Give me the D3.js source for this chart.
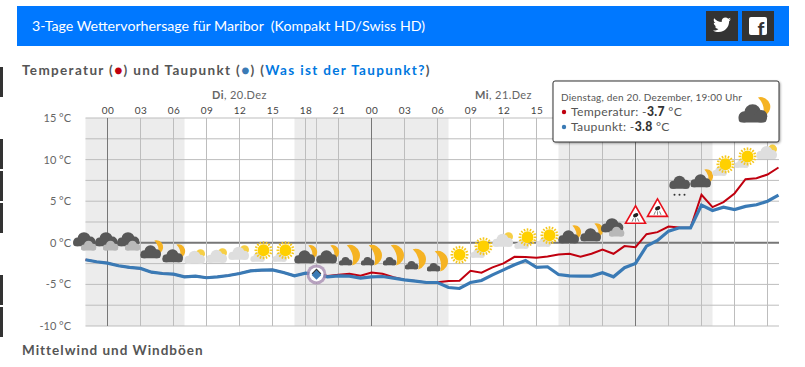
<!DOCTYPE html>
<html>
<head>
<meta charset="utf-8">
<script src="https://cdn.jsdelivr.net/npm/d3@7"></script>
<style>
  html, body { margin: 0; padding: 0; background: #fff; overflow: hidden; }
  text { font-family: Lato, "Open Sans", sans-serif; }
</style>
</head>
<body>
<svg id="chart" width="805" height="367"></svg>
<script>
// hours counted from Tue 00:00, one value per hour
const hours = d3.range(-2, 62);
const temperature = [
  -2.04, -2.28, -2.44, -2.76, -2.96, -3.08, -3.53, -3.69, -3.77, -4.09, -4.0, -4.2, -4.09, -3.93, -3.69, -3.37,
  -3.29, -3.25, -3.57, -3.97, -3.65, -3.7, -4.0, -3.85, -3.73, -3.97, -3.57, -3.73, -4.13, -4.45, -4.6, -4.77,
  -4.73, -4.6, -4.57, -3.37, -3.6, -2.96, -2.48, -1.68, -1.72, -1.8, -1.64, -1.4, -1.32, -1.68, -1.32,
  -0.8, -1.32, -0.4, -0.52, 1.04, 1.28, 1.96, 1.84, 1.8, 5.77, 4.29, 4.89, 5.93, 7.65, 7.77, 8.21, 9.05
];
const dewPoint = [
  -2.04, -2.28, -2.44, -2.76, -2.96, -3.08, -3.53, -3.69, -3.77, -4.09, -4.0, -4.2, -4.09, -3.93, -3.69, -3.37,
  -3.29, -3.25, -3.57, -3.97, -3.65, -3.8, -4.09, -3.97, -4.0, -4.25, -4.09, -4.05, -4.25, -4.45, -4.6, -4.77,
  -4.77, -5.37, -5.49, -4.77, -4.53, -3.85, -3.25, -2.64, -2.12, -2.96, -2.88, -3.81, -3.97, -4.0, -4.0,
  -3.6, -4.09, -3.0, -2.48, -0.4, 0.28, 1.4, 1.8, 1.8, 4.53, 3.89, 4.29, 4.0, 4.37, 4.57, 5.0, 5.73
];

const nightBands = [[-2, 7], [17, 31], [41, 55]];
const gridHours = d3.range(0, 61, 3);
const hourTicks = d3.range(0, 40, 3);
const midnights = [0, 24, 48];
const dayLabels = [{ hour: 12, day: 'Di', date: ', 20.Dez' }, { hour: 36, day: 'Mi', date: ', 21.Dez' }];
const tempTicks = [15, 10, 5, 0, -5, -10];
const gridTemps = d3.range(-10, 15.1, 2.5);

// weather symbols, one every two hours
const iconHours = d3.range(-2, 61, 2);
const iconKinds = [
  'overcast', 'overcast', 'overcast', 'cloudMoon', 'cloudMoon', 'lightSun', 'lightSun', 'lightSun', 'sunCloud', 'sunCloud',
  'cloudMoon', 'cloudMoon', 'moonCloud', 'moonCloud', 'moonCloud', 'moonCloud', 'moonCloud', 'sun', 'sunCloud', 'lightSun',
  'sunCloud', 'sunCloud', 'cloudMoon', 'cloudMoon', 'overcast', 'warn', 'warn', 'snow', 'cloudMoon', 'sunCloud', 'sunCloud', 'lightSun'
];
const iconLevels = [
  0, 0, 0, -0.96, -1.44, -1.68, -1.56, -1.2, -1.08, -1.08,
  -1.56, -1.56, -1.56, -1.56, -1.56, -2.04, -2.28, -1.44, -0.6, 0.36,
  0.48, 0.72, 0.84, 1.08, 1.68, 3.37, 4.2, 6.73, 7.57, 9.25, 10.2, 10.9
];
const hoverHour = 19;

const svg = d3.select('#chart');
const plot = { left: 85.5, right: 779, top: 118, bottom: 326 };
const x = d3.scaleLinear().domain([-2, 61]).range([plot.left, plot.left + 63 * 11]);
const y = d3.scaleLinear().domain([-10, 15]).range([plot.bottom, plot.top]);

// page furniture
[[67, 97], [139, 169], [171, 201], [203, 233], [275, 305], [307, 337]].forEach(([a, b]) => {
  svg.append('rect').attr('x', 0).attr('y', a).attr('width', 3).attr('height', b - a).attr('fill', '#333');
});
svg.append('rect').attr('x', 17).attr('y', 6).attr('width', 772).attr('height', 40).attr('fill', '#0078ff');
svg.append('text').attr('x', 32).attr('y', 31).attr('fill', '#fff').style('font-size', '14.2px')
  .text('3-Tage Wettervorhersage für Maribor\u00a0 (Kompakt HD/Swiss HD)');

svg.append('rect').attr('x', 706).attr('y', 11).attr('width', 32).attr('height', 30).attr('fill', '#333');
svg.append('rect').attr('x', 742).attr('y', 11).attr('width', 32).attr('height', 30).attr('fill', '#333');
svg.append('path')
  .attr('transform', 'translate(713,17) scale(0.75)')
  .attr('fill', '#fff')
  .attr('d', 'M24 3c-.9.4-1.8.7-2.8.8 1-.6 1.8-1.6 2.2-2.7-1 .6-2 1-3.1 1.2C19.300 1.200 18 .6 16.500.6c-2.700 0-4.900 2.200-4.900 4.900 0 .4 0 .8.1 1.100C7.600 6.400 4 4.500 1.600 1.500 1.200 2.200 1 3 1 4c0 1.700.9 3.200 2.200 4.100-.8 0-1.600-.2-2.200-.6v.1c0 2.400 1.700 4.400 3.900 4.800-.4.100-.8.200-1.300.2-.3 0-.6 0-.9-.1.6 2 2.400 3.400 4.600 3.400-1.700 1.300-3.800 2.100-6.100 2.100-.4 0-.8 0-1.200-.1 2.200 1.400 4.800 2.200 7.500 2.200 9.100 0 14-7.500 14-14v-.6c1-.7 1.800-1.600 2.500-2.500z');
svg.append('rect').attr('x', 749).attr('y', 17).attr('width', 18).attr('height', 18).attr('rx', 2).attr('fill', '#fff');
svg.append('text').attr('x', 761).attr('y', 36).attr('text-anchor', 'middle').attr('fill', '#333')
  .style('font-size', '19px').style('font-weight', '900').text('f');

const heading = svg.append('text').attr('x', 22).attr('y', 75).attr('fill', '#555')
  .style('font-size', '13.5px').style('font-weight', '700').style('letter-spacing', '1.35px');
heading.append('tspan').text('Temperatur (');
heading.append('tspan').attr('fill', '#c0000f').text('●');
heading.append('tspan').text(') und Taupunkt (');
heading.append('tspan').attr('fill', '#3a7ab5').text('●');
heading.append('tspan').text(') (');
heading.append('tspan').attr('fill', '#0078e0').text('Was ist der Taupunkt?');
heading.append('tspan').text(')');
svg.append('text').attr('x', 22).attr('y', 355).attr('fill', '#555')
  .style('font-size', '13.5px').style('font-weight', '700').style('letter-spacing', '1px')
  .text('Mittelwind und Windböen');

// night shading and grid
svg.append('g').selectAll('rect').data(nightBands).join('rect')
  .attr('x', (d) => x(d[0]))
  .attr('y', plot.top)
  .attr('width', (d) => x(d[1]) - x(d[0]))
  .attr('height', plot.bottom - plot.top)
  .attr('fill', '#ececec');

svg.append('g').selectAll('line').data(gridTemps).join('line')
  .attr('x1', plot.left).attr('x2', plot.right)
  .attr('y1', (d) => y(d)).attr('y2', (d) => y(d))
  .attr('stroke', (d) => (d === 0 ? '#777' : '#bdbdbd'))
  .attr('stroke-width', (d) => (d === 0 ? 2 : 1));

svg.append('g').selectAll('line').data(gridHours).join('line')
  .attr('x1', (d) => x(d)).attr('x2', (d) => x(d))
  .attr('y1', plot.top).attr('y2', plot.bottom)
  .attr('stroke', (d) => (midnights.includes(d) ? '#777' : '#bdbdbd'));

svg.append('line')
  .attr('x1', x(hoverHour)).attr('x2', x(hoverHour))
  .attr('y1', plot.top).attr('y2', plot.bottom)
  .attr('stroke', '#c4c4c4');

// axes
const axisTop = d3.axisTop(x).tickValues(hourTicks).tickSize(0).tickPadding(0)
  .tickFormat((d) => String(d % 24).padStart(2, '0'));
const topAxis = svg.append('g').attr('transform', `translate(0,${plot.top - 4})`).call(axisTop);
topAxis.select('.domain').remove();
topAxis.selectAll('text').attr('fill', '#444').style('font-size', '10px').style('letter-spacing', '0.4px');

const axisLeft = d3.axisLeft(y).tickValues(tempTicks).tickSize(0).tickPadding(0)
  .tickFormat((d) => `${d} °C`);
const leftAxis = svg.append('g').attr('transform', 'translate(71,0)').call(axisLeft);
leftAxis.select('.domain').remove();
leftAxis.selectAll('text').attr('fill', '#666').style('font-size', '11px');

const dayText = svg.append('g').selectAll('text').data(dayLabels).join('text')
  .attr('x', (d) => x(d.hour))
  .attr('y', 99)
  .attr('text-anchor', 'middle')
  .attr('fill', '#666')
  .style('font-size', '11px')
  .style('letter-spacing', '0.4px');
dayText.append('tspan').style('font-weight', '700').text((d) => d.day);
dayText.append('tspan').text((d) => d.date);

// series
const line = d3.line().x((d, i) => x(hours[i])).y((d) => y(d));
svg.append('path').datum(temperature).attr('d', line).attr('fill', 'none')
  .attr('stroke', '#c0000f').attr('stroke-width', 2);
svg.append('path').datum(dewPoint).attr('d', line).attr('fill', 'none')
  .attr('stroke', '#3a7ab5').attr('stroke-width', 3.2);

// symbol parts
function cloud(g, cx, cy, s, color) {
  const c = g.append('g').attr('transform', `translate(${cx},${cy}) scale(${s})`).attr('fill', color);
  c.append('circle').attr('cx', -6).attr('cy', 1.5).attr('r', 4);
  c.append('circle').attr('cx', 0).attr('cy', -1.5).attr('r', 6);
  c.append('circle').attr('cx', 6).attr('cy', 1).attr('r', 4.5);
  c.append('rect').attr('x', -10).attr('y', 0).attr('width', 20).attr('height', 5.5).attr('rx', 2.5);
}
function sun(g, cx, cy, r) {
  const s = g.append('g').attr('transform', `translate(${cx},${cy})`);
  d3.range(0, 360, 22.5).forEach((a) => {
    s.append('line')
      .attr('x1', 0).attr('y1', -r - 0.5).attr('x2', 0).attr('y2', -r - 3)
      .attr('transform', `rotate(${a})`)
      .attr('stroke', '#f6c81e').attr('stroke-width', 1.6);
  });
  s.append('circle').attr('r', r).attr('fill', '#ffd000');
}
function moon(g, cx, cy, r) {
  g.append('path')
    .attr('transform', `translate(${cx},${cy}) scale(${r / 10}) rotate(-15)`)
    .attr('fill', '#f5b324')
    .attr('d', 'M-2,-10 A10,10 0 1 1 -2,10 A20,20 0 0 0 -2,-10 Z');
}
const drawIcon = {
  overcast(g) {
    cloud(g, -1.5, -2.5, 1.08, '#585858');
    cloud(g, 3, 3.5, 0.75, '#b8b8b8');
  },
  cloudMoon(g) {
    moon(g, 6, -4, 7);
    cloud(g, -1, 2, 1, '#585858');
  },
  moonCloud(g) {
    moon(g, 2, -1, 10.5);
    cloud(g, -4, 6, 0.65, '#585858');
  },
  lightSun(g) {
    g.append('circle').attr('cx', 5).attr('cy', -3).attr('r', 4.5).attr('fill', '#f6cf45');
    cloud(g, -1, 1.5, 1, '#dedede');
  },
  sunCloud(g) {
    cloud(g, -4, 6, 0.7, '#dedede');
    sun(g, 2, -1.5, 6);
  },
  sun(g) {
    sun(g, 0, 0, 6);
  },
  snow(g) {
    cloud(g, 0, -3.5, 1, '#585858');
    g.selectAll('circle.flake').data([-5, 0, 5]).join('circle')
      .attr('class', 'flake')
      .attr('cx', (d) => d).attr('cy', 8).attr('r', 1).attr('fill', '#333');
  },
  warn(g) {
    g.append('path').attr('d', 'M0,-9 L10,8.500 L-10,8.500 Z').attr('fill', '#fff')
      .attr('stroke', '#e8101c').attr('stroke-width', 1.6);
    g.append('ellipse').attr('cy', 0.5).attr('rx', 2.8).attr('ry', 1.9).attr('fill', '#222').attr('transform', 'rotate(-25)');
    g.append('path').attr('d', 'M-2,3.500 L-3.500,7 M0,3.500 L0,7 M2,3.500 L3.500,7').attr('stroke', '#555').attr('stroke-width', 0.7);
  }
};
iconHours.forEach((h, i) => {
  const g = svg.append('g').attr('transform', `translate(${x(h)},${y(iconLevels[i])})`);
  drawIcon[iconKinds[i]](g);
});

// hovered point
const hoverX = x(hoverHour);
const hoverY = y(dewPoint[hours.indexOf(hoverHour)]);
svg.append('circle').attr('cx', hoverX).attr('cy', hoverY).attr('r', 10).attr('fill', '#a58ab0').attr('opacity', 0.75);
svg.append('circle').attr('cx', hoverX).attr('cy', hoverY).attr('r', 7).attr('fill', '#fff');
svg.append('path').attr('transform', `translate(${hoverX},${hoverY - 1})`).attr('d', d3.symbol(d3.symbolDiamond2, 60)).attr('fill', '#333');
svg.append('path').attr('transform', `translate(${hoverX},${hoverY + 0.5})`).attr('d', d3.symbol(d3.symbolDiamond2, 60)).attr('fill', '#3a7ab5');

// tooltip
const tip = svg.append('g').attr('transform', 'translate(553,81)');
const defs = svg.append('defs');
const blur = defs.append('filter').attr('id', 'tipShadow').attr('x', '-5%').attr('y', '-5%').attr('width', '110%').attr('height', '115%');
blur.append('feDropShadow').attr('dx', 1).attr('dy', 1).attr('stdDeviation', 1.2).attr('flood-opacity', 0.35);
tip.append('rect').attr('width', 226).attr('height', 61).attr('rx', 2).attr('fill', '#fff')
  .attr('stroke', '#333').attr('filter', 'url(#tipShadow)');
tip.append('text').attr('x', 8).attr('y', 20).attr('fill', '#555').style('font-size', '10px').style('letter-spacing', '0.2px')
  .text('Dienstag, den 20. Dezember, 19:00 Uhr');
[
  { color: '#c0000f', label: 'Temperatur: ', value: temperature[hours.indexOf(hoverHour)], base: 35 },
  { color: '#3a7ab5', label: 'Taupunkt: ', value: dewPoint[hours.indexOf(hoverHour)], base: 50 }
].forEach((row) => {
  tip.append('circle').attr('cx', 11).attr('cy', row.base - 4).attr('r', 2.2).attr('fill', row.color);
  const t = tip.append('text').attr('x', 18).attr('y', row.base).attr('fill', '#555')
    .style('font-size', '12.2px').style('letter-spacing', '0.3px');
  t.append('tspan').text(`${row.label}-`);
  t.append('tspan').style('font-weight', '900').attr('fill', '#333').text(Math.abs(row.value).toFixed(1));
  t.append('tspan').text(' °C');
});
const tipIcon = tip.append('g').attr('transform', 'translate(201,31) scale(1.4)');
drawIcon.cloudMoon(tipIcon);
</script>
</body>
</html>
